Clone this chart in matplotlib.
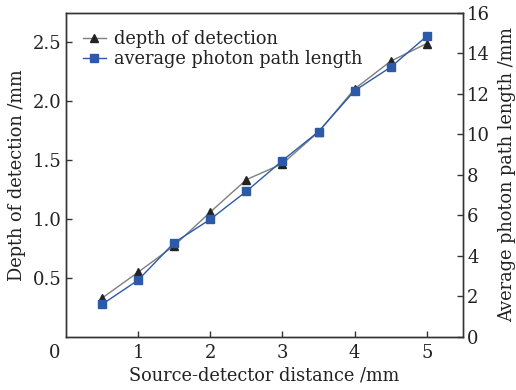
import matplotlib
matplotlib.use("Agg")
import matplotlib.pyplot as plt
from matplotlib.lines import Line2D

# datos
distancia = [0.5, 1.0, 1.5, 2.0, 2.5, 3.0, 3.5, 4.0, 4.5, 5.0]
profundidad = [0.33, 0.55, 0.775, 1.06, 1.335, 1.47, 1.74, 2.105, 2.34, 2.49]
camino_medio = [1.61, 2.81, 4.66, 5.81, 7.19, 8.71, 10.14, 12.16, 13.32, 14.85]

x_ticks = [1, 2, 3, 4, 5]
y1_ticks = [0.5, 1.0, 1.5, 2.0, 2.5]
y2_ticks = [0, 2, 4, 6, 8, 10, 12, 14, 16]

plt.rcParams['font.family'] = ['DejaVu Serif']
plt.rcParams['mathtext.fontset'] = 'dejavuserif'

fig = plt.figure(figsize=(5.16, 3.9), dpi=100, facecolor='white')
ax = fig.add_axes([0.128, 0.136, 0.769, 0.831])
ax2 = ax.twinx()

color_spine = '#333333'
color_txt = '#222222'
azul = '#2c5aa8'

ax.plot(distancia, profundidad, color='#7f7f7f', linewidth=1.0,
        marker='^', markersize=6, markerfacecolor='#222222',
        markeredgecolor='#222222', zorder=3)
ax2.plot(distancia, camino_medio, color=azul, linewidth=1.0,
         marker='s', markersize=5.5, markerfacecolor=azul,
         markeredgecolor=azul, zorder=3)

ax.set_xlim(0, 5.5)
ax.set_ylim(0, 2.75)
ax2.set_ylim(0, 16)

ax.set_xticks(x_ticks)
ax.set_yticks(y1_ticks)
ax2.set_yticks(y2_ticks)
ax.set_yticklabels([f"{v:.1f}" for v in y1_ticks])

for a in (ax, ax2):
    for s in a.spines.values():
        s.set_color(color_spine)
        s.set_linewidth(1.0)
    a.tick_params(direction='in', length=4, width=1, color=color_spine,
                  labelsize=13, labelcolor=color_txt, pad=3)
ax.tick_params(axis='x', pad=5)

# origen "0"
ax.text(-0.03, -0.05, "0", transform=ax.transAxes, ha='center', va='center',
        fontsize=13, color=color_txt)

ax.set_xlabel("Source-detector distance /mm", fontsize=12.8, color=color_txt,
              labelpad=3)
ax.set_ylabel("Depth of detection /mm", fontsize=12.8, color=color_txt,
              labelpad=5)
ax2.set_ylabel("Average photon path length /mm", fontsize=12.8,
               color=color_txt, labelpad=6)

handles = [
    Line2D([0], [0], color='#7f7f7f', marker='^', markersize=6,
           markerfacecolor='#222222', markeredgecolor='#222222', linewidth=1),
    Line2D([0], [0], color=azul, marker='s', markersize=5.5,
           markerfacecolor=azul, markeredgecolor=azul, linewidth=1),
]
ax.legend(handles, ["depth of detection", "average photon path length"],
          loc='upper left', frameon=False, fontsize=12.8, handlelength=1.3,
          handletextpad=0.45, labelspacing=0.12, borderaxespad=0.55,
          labelcolor=color_txt)

fig.savefig("out.png", dpi=100, facecolor='white')
